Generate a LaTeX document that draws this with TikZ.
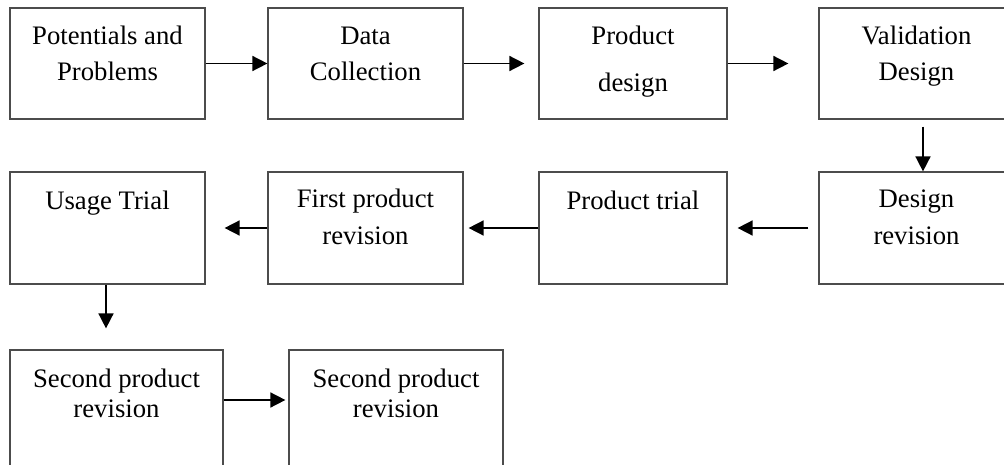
\documentclass[tikz,border=0pt]{standalone}
\usepackage{fontspec}
\setmainfont{Liberation Serif}
\usetikzlibrary{arrows.meta}
\begin{document}
\begin{tikzpicture}[x=1pt,y=-1pt,
  box/.style={draw=black!70,line width=1.2pt,inner sep=0pt},
  txt/.style={font=\fontsize{26.7pt}{36.7pt}\selectfont,align=center,inner sep=0pt,anchor=base},
  arr/.style={line width=1.6pt,-{Triangle[length=15pt,width=15pt]}}]
\useasboundingbox (0,0) rectangle (1004,465);
% row 1
\node[box,minimum width=195pt,minimum height=111pt] (b1) at (107.5,63.5) {};
\node[box,minimum width=195pt,minimum height=111pt] (b2) at (365.5,63.5) {};
\node[box,minimum width=188pt,minimum height=111pt] (b3) at (633,63.5) {};
\node[box,minimum width=195pt,minimum height=111pt] (b4) at (916.5,63.5) {};
% row 2
\node[box,minimum width=195pt,minimum height=112pt] (b9) at (107.5,228) {};
\node[box,minimum width=195pt,minimum height=112pt] (b10) at (365.5,228) {};
\node[box,minimum width=188pt,minimum height=112pt] (b7) at (633,228) {};
\node[box,minimum width=195pt,minimum height=112pt] (b8) at (916.5,228) {};
% row 3
\node[box,minimum width=213pt,minimum height=130pt] (b5) at (116.5,415) {};
\node[box,minimum width=214pt,minimum height=130pt] (b6) at (396,415) {};
% texts (anchor=base is the last line's baseline)
\node[txt] (t1) at (107.5,81) {Potentials and\\Problems};
\node[txt] (t2) at (365.5,81) {Data\\Collection};
\node[txt] (t3a) at (633,44.5) {Product};
\node[txt] (t3b) at (633,92) {design};
\node[txt] (t4) at (916.5,81) {Validation\\Design};
\node[txt] (t9) at (107.5,209.3) {Usage Trial};
\node[txt] (t10) at (365.5,244.3) {First product\\revision};
\node[txt] (t7) at (633,209.3) {Product trial};
\node[txt] (t8) at (916.5,244.3) {Design\\revision};
\node[txt,font=\fontsize{26.7pt}{30pt}\selectfont] (t5) at (116.5,417) {Second product\\revision};
\node[txt,font=\fontsize{26.7pt}{30pt}\selectfont] (t6) at (396,417) {Second product\\revision};
% arrows
\draw[arr] (b1.east) -- (b2.west);
\draw[arr,shorten >=14pt] (b2.east) -- (b3.west);
\draw[arr,shorten >=30pt] (b3.east) -- (b4.west);
\draw[arr] ([xshift=6.5pt,yshift=-7pt]b4.south) -- ([xshift=6.5pt]b8.north);
\draw[arr,shorten <=10pt,shorten >=10pt] (b8.west) -- (b7.east);
\draw[arr,shorten >=5pt] (b7.west) -- (b10.east);
\draw[arr,shorten >=19pt] (b10.west) -- (b9.east);
\draw[arr,shorten >=21pt] ([xshift=-1.5pt]b9.south) -- ([xshift=-1.5pt]b9.south |- b5.north);
\draw[arr,shorten >=3pt] (b5.east |- 0,400) -- (b6.west |- 0,400);
\end{tikzpicture}
\end{document}
